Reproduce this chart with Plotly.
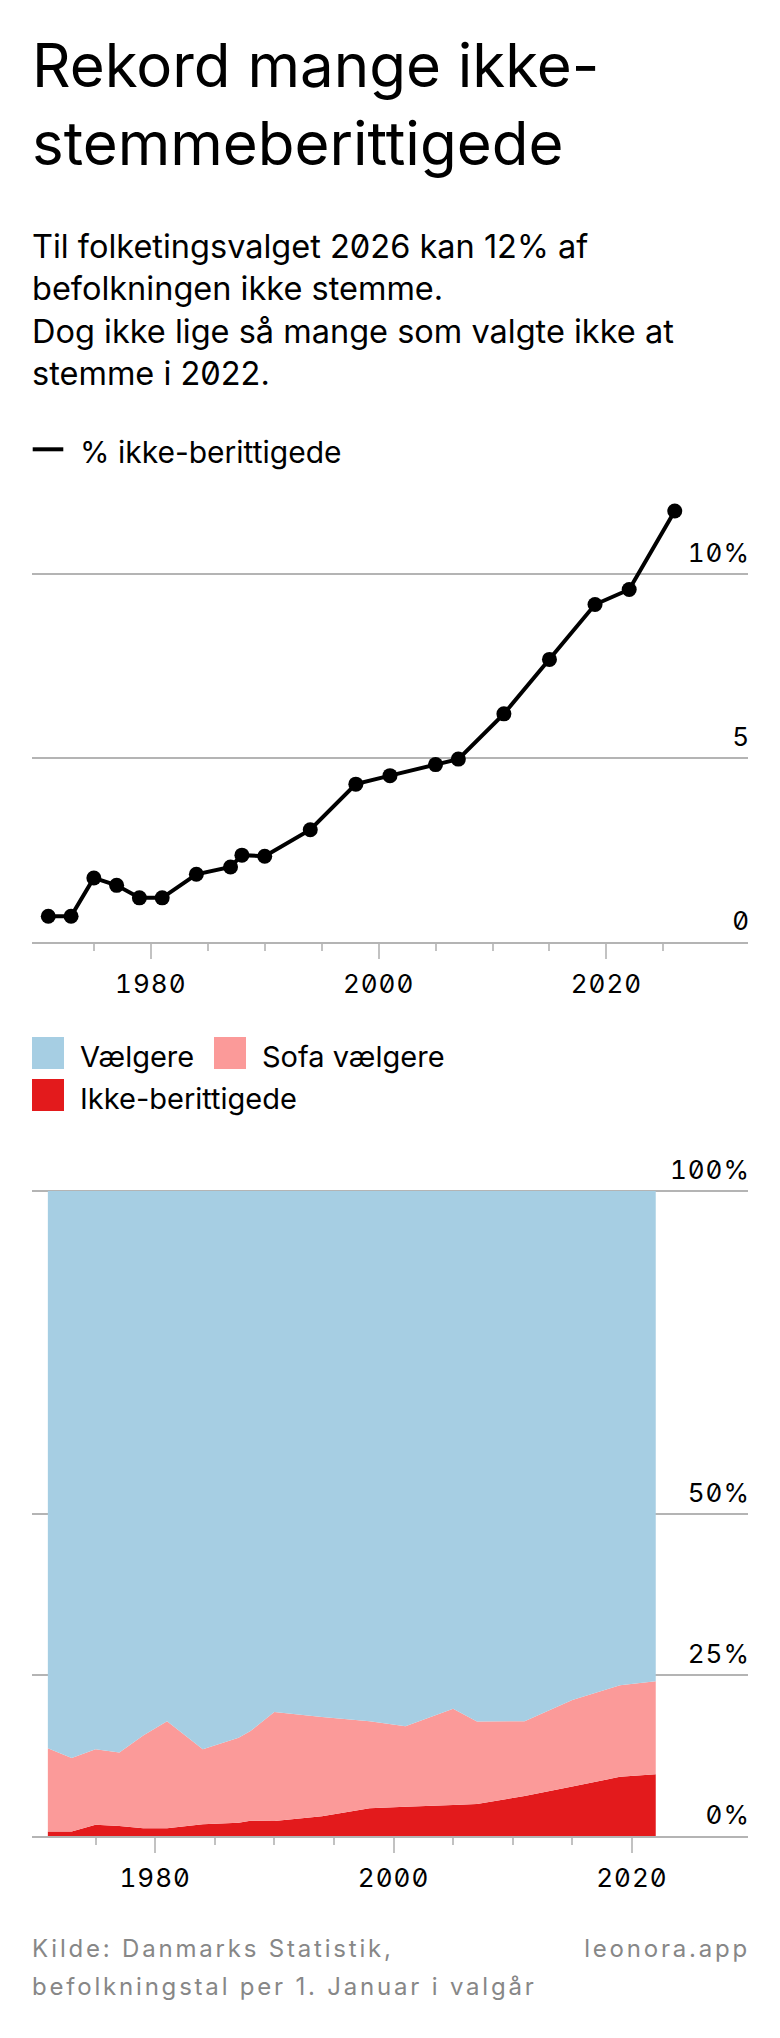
import json
import plotly.graph_objects as go

W, H = 780, 2038

# ---------------- data ----------------
years = [1971, 1973, 1975, 1977, 1979, 1981, 1984, 1987, 1988, 1990,
         1994, 1998, 2001, 2005, 2007, 2011, 2015, 2019, 2022, 2026]
ikke_pct = [0.70, 0.70, 1.74, 1.54, 1.20, 1.20, 1.84, 2.04, 2.36, 2.33,
            3.05, 4.29, 4.52, 4.82, 4.97, 6.20, 7.68, 9.17, 9.58, 11.71]

area_years = [1971, 1973, 1975, 1977, 1979, 1981, 1984, 1987, 1988, 1990,
              1994, 1998, 2001, 2005, 2007, 2011, 2015, 2019, 2022]
area_ikke = [0.70, 0.70, 1.74, 1.54, 1.20, 1.20, 1.84, 2.04, 2.36, 2.33,
             3.05, 4.29, 4.52, 4.82, 4.97, 6.20, 7.68, 9.17, 9.58]
area_sofa = [12.9, 11.4, 11.7, 11.4, 14.4, 16.6, 11.6, 13.2, 13.9, 16.9,
             15.4, 13.5, 12.5, 14.9, 12.8, 11.6, 13.4, 14.2, 14.4]
area_voters = [round(100 - a - b, 2) for a, b in zip(area_ikke, area_sofa)]

x_major = [1980, 2000, 2020]
x_major_text = ["1980", "2000", "2020"]
top_minor = [1975, 1985, 1990, 1995, 2005, 2010, 2015, 2025]
bottom_minor = [1975, 1985, 1990, 1995, 2005, 2010, 2015]

top_yvals = [0, 5, 10]
top_ytext = ["0", "5", "10%"]
bottom_yvals = [0, 25, 50, 100]
bottom_ytext = ["0%", "25%", "50%", "100%"]

legend_series = ["Vælgere", "Sofa vælgere", "Ikke-berittigede"]
colors = {"Vælgere": "#a6cee3", "Sofa vælgere": "#fb9a99", "Ikke-berittigede": "#e31a1c"}

FONT = "Inter, Roboto, sans-serif"
GRID = "#b4b4b4"
TICK = "#c2c2c2"


def px(xp):
    return xp / W


def py(yp):
    return 1 - yp / H


fig = go.Figure()

# top line chart
fig.add_trace(go.Scatter(
    x=years, y=ikke_pct, mode="lines+markers",
    line=dict(color="black", width=4),
    marker=dict(color="black", size=15),
    cliponaxis=False, showlegend=False, xaxis="x", yaxis="y",
    name="% ikke-berittigede"))

# bottom stacked area chart
for name, vals in [("Ikke-berittigede", area_ikke),
                   ("Sofa vælgere", area_sofa),
                   ("Vælgere", area_voters)]:
    fig.add_trace(go.Scatter(
        x=area_years, y=vals, stackgroup="one", mode="none",
        fillcolor=colors[name], line=dict(width=0),
        showlegend=False, xaxis="x2", yaxis="y2", name=name))

tickfont = dict(family=FONT, size=26, color="black")

common_x = dict(
    showline=True, linecolor=GRID, linewidth=2,
    ticks="outside", tickmode="array", ticklen=15, tickwidth=2, tickcolor=TICK,
    showgrid=False, zeroline=False, tickfont=tickfont, ticklabelstandoff=3,
    fixedrange=True,
)
common_y = dict(
    side="right", tickmode="array", ticklabelposition="inside", ticks="",
    ticklabelshift=-21, ticklabelstandoff=-5, showgrid=True, gridcolor=GRID, gridwidth=2,
    zeroline=False, showline=False, tickfont=tickfont, fixedrange=True,
)

top_bottom_px, top_top_px = 942, 490
bot_bottom_px, bot_top_px = 1836, 1152.3

fig.update_layout(
    width=W, height=H, margin=dict(l=0, r=0, t=0, b=0),
    paper_bgcolor="white", plot_bgcolor="white",
    font=dict(family=FONT, color="black"),
    xaxis=dict(domain=[px(32), px(748)], range=[1969.57, 2032.43], anchor="y",
               tickvals=x_major, ticktext=x_major_text,
               minor=dict(tickmode="array", tickvals=top_minor, ticks="outside",
                          ticklen=7, tickwidth=2, tickcolor=TICK, showgrid=False),
               **common_x),
    yaxis=dict(domain=[py(top_bottom_px), py(top_top_px)],
               range=[0, (top_bottom_px - top_top_px) / 36.8], anchor="x",
               tickvals=top_yvals, ticktext=top_ytext, **common_y),
    xaxis2=dict(domain=[px(32), px(748)], range=[1969.67, 2029.74], anchor="y2",
                tickvals=x_major, ticktext=x_major_text,
                minor=dict(tickmode="array", tickvals=bottom_minor, ticks="outside",
                           ticklen=7, tickwidth=2, tickcolor=TICK, showgrid=False),
                **common_x),
    yaxis2=dict(domain=[py(bot_bottom_px), py(bot_top_px)],
                range=[0, (bot_bottom_px - bot_top_px) / 6.45], anchor="x2",
                tickvals=bottom_yvals, ticktext=bottom_ytext, **common_y),
)

ann = []
# title
ann.append(dict(text="Rekord mange ikke-<br>stemmeberittigede", x=px(30), y=py(27),
                xref="paper", yref="paper", xanchor="left", yanchor="top", align="left",
                showarrow=False, font=dict(family=FONT, size=60, color="black")))
# subtitle
ann.append(dict(text="Til folketingsvalget 2026 kan 12% af<br>befolkningen ikke stemme.<br>"
                     "Dog ikke lige så mange som valgte ikke at<br>stemme i 2022.",
                x=px(30), y=py(225.5), xref="paper", yref="paper", xanchor="left",
                yanchor="top", align="left", showarrow=False,
                font=dict(family=FONT, size=32.5, color="black")))
# top legend
ann.append(dict(text="% ikke-berittigede", x=px(78), y=py(432), xref="paper", yref="paper",
                xanchor="left", yanchor="top", align="left", showarrow=False,
                font=dict(family=FONT, size=30, color="black")))
# bottom legend labels
leg_pos = {"Vælgere": (32, 1037), "Sofa vælgere": (214, 1037), "Ikke-berittigede": (32, 1079)}
for name in legend_series:
    lx, ly = leg_pos[name]
    ann.append(dict(text=name, x=px(lx + 46), y=py(ly), xref="paper", yref="paper",
                    xanchor="left", yanchor="top", align="left", showarrow=False,
                    font=dict(family=FONT, size=29, color="black")))
# footer
GREY = "#878787"
ann.append(dict(text="Kilde: Danmarks Statistik,", x=px(30), y=py(1932), xref="paper",
                yref="paper", xanchor="left", yanchor="top", align="left", showarrow=False,
                font=dict(family=FONT, size=24, color=GREY)))
ann.append(dict(text="befolkningstal per 1. Januar i valgår", x=px(30), y=py(1970),
                xref="paper", yref="paper", xanchor="left", yanchor="top", align="left",
                showarrow=False, font=dict(family=FONT, size=24, color=GREY)))
ann.append(dict(text="leonora.app", x=px(752), y=py(1932), xref="paper", yref="paper",
                xanchor="right", yanchor="top", align="right", showarrow=False,
                font=dict(family=FONT, size=24, color=GREY)))
fig.update_layout(annotations=ann)

shapes = [dict(type="line", xref="paper", yref="paper", x0=px(32.7), x1=px(63.3),
               y0=py(449.3), y1=py(449.3), line=dict(color="black", width=4))]
for name in legend_series:
    lx, ly = leg_pos[name]
    shapes.append(dict(type="rect", xref="paper", yref="paper", x0=px(lx), x1=px(lx + 32),
                       y0=py(ly + 32), y1=py(ly), fillcolor=colors[name], line=dict(width=0)))
fig.update_layout(shapes=shapes)

css = ('body{margin:0 !important}'
       '.js-plotly-plot{font-feature-settings:"zero" 1}'
       '.xtick text,.x2tick text,.ytick text,.y2tick text'
       '{letter-spacing:1px;font-feature-settings:"zero" 1,"tnum" 1}'
       '.annotation[data-index="6"] text,.annotation[data-index="7"] text,'
       '.annotation[data-index="8"] text{letter-spacing:2.8px}')
post = ("var s=document.createElement('style');s.textContent=" + json.dumps(css) +
        ";document.head.appendChild(s);")

fig.write_html("out.html", post_script=post, config={"displayModeBar": False})
